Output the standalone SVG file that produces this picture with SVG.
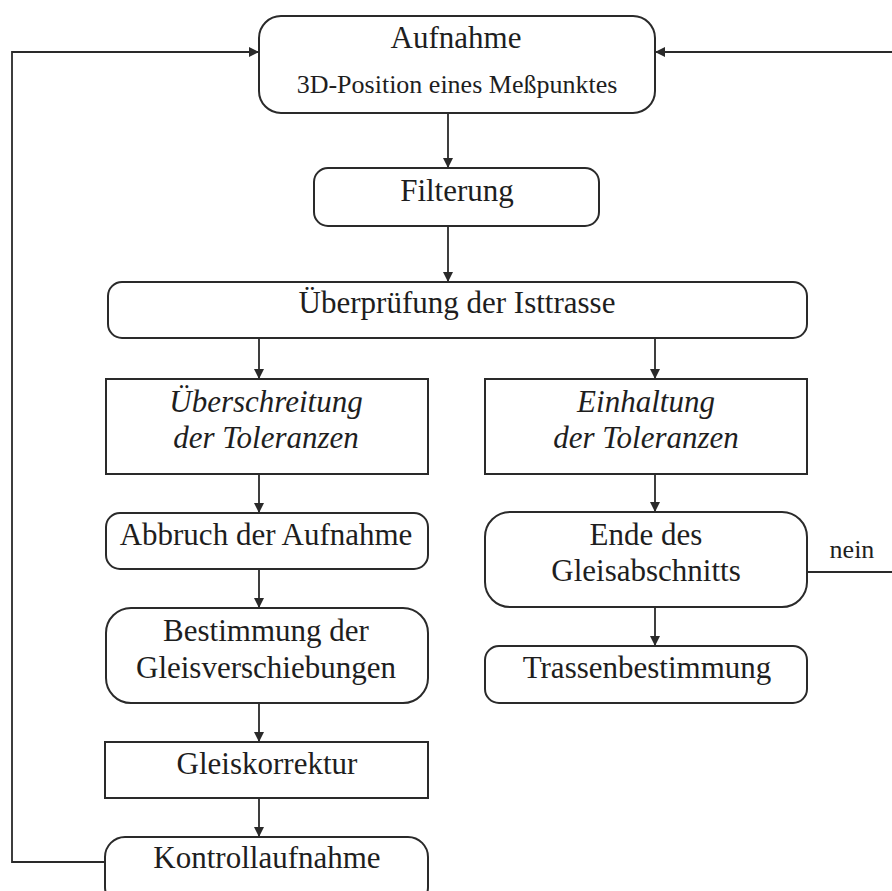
<svg xmlns="http://www.w3.org/2000/svg" width="892" height="891" viewBox="0 0 892 891">
  <style>
    .box { fill: #ffffff; stroke: #2a2a2a; stroke-width: 2; }
    .conn { fill: none; stroke: #2a2a2a; stroke-width: 1.8; }
    .t { font-family: "Liberation Serif", "Times New Roman", serif; font-size: 31px; fill: #1e1e1e; text-anchor: middle; }
    .s { font-size: 26px; }
    .i { font-style: italic; }
  </style>
  <defs>
    <marker id="arr" viewBox="0 0 10 10" refX="10" refY="5" markerWidth="10" markerHeight="10" markerUnits="userSpaceOnUse" orient="auto">
      <path d="M0,0 L10,5 L0,10 z" fill="#2a2a2a"/>
    </marker>
  </defs>

  <g id="connectors">
    <line class="conn" x1="448" y1="113" x2="448" y2="168" marker-end="url(#arr)"/>
    <line class="conn" x1="448" y1="226" x2="448" y2="282" marker-end="url(#arr)"/>
    <line class="conn" x1="259" y1="338" x2="259" y2="379" marker-end="url(#arr)"/>
    <line class="conn" x1="655" y1="338" x2="655" y2="379" marker-end="url(#arr)"/>
    <line class="conn" x1="259" y1="474" x2="259" y2="513" marker-end="url(#arr)"/>
    <line class="conn" x1="655" y1="474" x2="655" y2="512" marker-end="url(#arr)"/>
    <line class="conn" x1="259" y1="569" x2="259" y2="608" marker-end="url(#arr)"/>
    <line class="conn" x1="655" y1="607" x2="655" y2="646" marker-end="url(#arr)"/>
    <line class="conn" x1="259" y1="703" x2="259" y2="742" marker-end="url(#arr)"/>
    <line class="conn" x1="259" y1="798" x2="259" y2="837" marker-end="url(#arr)"/>
    <polyline class="conn" points="105,862 12,862 12,52 259,52" marker-end="url(#arr)"/>
    <line class="conn" x1="900" y1="52" x2="655" y2="52" marker-end="url(#arr)"/>
    <line class="conn" x1="807" y1="572" x2="900" y2="572"/>
    <text class="t s" x="852" y="558">nein</text>
  </g>

  <g id="aufnahme">
    <rect class="box" x="259" y="16" width="396" height="97" rx="22"/>
    <text class="t" x="456" y="48">Aufnahme</text>
    <text class="t s" x="457" y="93">3D-Position eines Meßpunktes</text>
  </g>
  <g id="filterung">
    <rect class="box" x="314" y="168" width="285" height="58" rx="14"/>
    <text class="t" x="457" y="201">Filterung</text>
  </g>
  <g id="ueberpruefung">
    <rect class="box" x="108" y="282" width="699" height="56" rx="14"/>
    <text class="t" x="457" y="313">Überprüfung der Isttrasse</text>
  </g>
  <g id="ueberschreitung">
    <rect class="box" x="106" y="379" width="322" height="95"/>
    <text class="t i" x="266" y="412">Überschreitung</text>
    <text class="t i" x="266" y="448">der Toleranzen</text>
  </g>
  <g id="einhaltung">
    <rect class="box" x="485" y="379" width="322" height="95"/>
    <text class="t i" x="646" y="412">Einhaltung</text>
    <text class="t i" x="646" y="448">der Toleranzen</text>
  </g>
  <g id="abbruch">
    <rect class="box" x="106" y="513" width="322" height="56" rx="14"/>
    <text class="t" x="266" y="545">Abbruch der Aufnahme</text>
  </g>
  <g id="ende">
    <rect class="box" x="485" y="512" width="322" height="95" rx="25"/>
    <text class="t" x="646" y="545">Ende des</text>
    <text class="t" x="646" y="581">Gleisabschnitts</text>
  </g>
  <g id="bestimmung">
    <rect class="box" x="106" y="608" width="322" height="95" rx="25"/>
    <text class="t" x="266" y="641">Bestimmung der</text>
    <text class="t" x="266" y="678">Gleisverschiebungen</text>
  </g>
  <g id="trassenbestimmung">
    <rect class="box" x="485" y="646" width="322" height="57" rx="14"/>
    <text class="t" x="647" y="678">Trassenbestimmung</text>
  </g>
  <g id="gleiskorrektur">
    <rect class="box" x="105" y="742" width="323" height="56"/>
    <text class="t" x="267" y="774">Gleiskorrektur</text>
  </g>
  <g id="kontrollaufnahme">
    <rect class="box" x="105" y="837" width="323" height="70" rx="20"/>
    <text class="t" x="267" y="868">Kontrollaufnahme</text>
  </g>
</svg>
